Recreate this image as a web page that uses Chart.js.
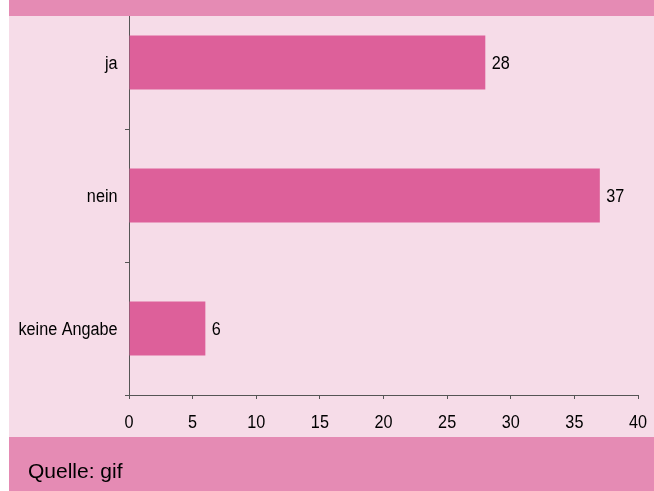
<!DOCTYPE html>
<html>
<head>
<meta charset="utf-8">
<script src="https://cdn.jsdelivr.net/npm/chart.js@4.4.1/dist/chart.umd.min.js"></script>
<style>
  html, body { margin: 0; padding: 0; background: #fff; }
  #wrap { width: 654px; height: 491px; position: relative; overflow: hidden; }
  #grafico { position: absolute; left: 0; top: -20px; }
</style>
</head>
<body>
<div id="wrap"><canvas id="grafico" width="654" height="511"></canvas></div>
<script>
// dados do gráfico
const categorias = ['ja', 'nein', 'keine Angabe'];
const valores = [28, 37, 6];
const ticksX = [0, 5, 10, 15, 20, 25, 30, 35, 40];
const fonte = 'Quelle: gif';

const corFaixa = '#e58bb4';
const corFundo = '#f6dce8';
const corBarra = '#dd609a';
const corEixo = '#555555';

// o canvas fica 20px acima da página (o topo do gráfico fica escondido)
const OY = 20;
const fonteRotulo = '18px "Liberation Sans", Arial, sans-serif';
const escalaX = 0.9; // texto um pouco estreito como no original

function textoEstreito(ctx, txt, x, y, align) {
    ctx.save();
    ctx.translate(x, y);
    ctx.scale(escalaX, 1);
    ctx.textAlign = align;
    ctx.fillText(txt, 0, 0);
    ctx.restore();
}

// fundo, faixas e rótulos
const desenhoPlugin = {
    id: 'desenho',
    beforeDraw(chart) {
        const ctx = chart.ctx;
        ctx.save();
        ctx.fillStyle = '#ffffff';
        ctx.fillRect(0, 0, chart.width, chart.height);
        ctx.fillStyle = corFundo;
        ctx.fillRect(9, 0, chart.width - 9, chart.height);
        ctx.restore();
    },
    afterDatasetsDraw(chart) {
        const ctx = chart.ctx;
        ctx.save();
        ctx.fillStyle = '#000';
        ctx.font = fonteRotulo;
        ctx.textBaseline = 'alphabetic';
        // valores nas barras
        chart.getDatasetMeta(0).data.forEach((barra, i) => {
            textoEstreito(ctx, String(valores[i]), barra.x + 6.5, barra.y + 6, 'left');
        });
        // rótulos do eixo y
        const y = chart.scales.y;
        categorias.forEach((c, i) => {
            textoEstreito(ctx, c, y.right - 11.5, y.getPixelForValue(i) + 6, 'right');
        });
        // rótulos do eixo x
        const x = chart.scales.x;
        ticksX.forEach(v => {
            textoEstreito(ctx, String(v), x.getPixelForValue(v), x.top + 33, 'center');
        });
        ctx.restore();
    },
    afterDraw(chart) {
        const ctx = chart.ctx;
        ctx.save();
        ctx.fillStyle = corFaixa;
        ctx.fillRect(9, 0, chart.width - 9, OY + 16);
        ctx.fillRect(9, OY + 437, chart.width - 9, chart.height - OY - 437);
        ctx.fillStyle = '#000';
        ctx.font = '21px "Liberation Sans", Arial, sans-serif';
        ctx.textBaseline = 'alphabetic';
        ctx.textAlign = 'left';
        ctx.fillText(fonte, 28, OY + 478);
        ctx.restore();
    }
};

new Chart(document.getElementById('grafico'), {
    type: 'bar',
    data: {
        labels: categorias,
        datasets: [{
            data: valores,
            backgroundColor: corBarra,
            borderWidth: 0,
            categoryPercentage: 1,
            barPercentage: 0.406
        }]
    },
    options: {
        indexAxis: 'y',
        responsive: false,
        animation: false,
        layout: { padding: { top: OY - 4, right: 16, left: 0, bottom: 0 } },
        plugins: {
            legend: { display: false },
            tooltip: { enabled: false }
        },
        scales: {
            x: {
                min: 0,
                max: 40,
                afterBuildTicks: (scale) => { scale.ticks = ticksX.map(v => ({ value: v })); },
                afterFit: (scale) => { scale.height = 96; },
                border: { display: true, color: corEixo, width: 1 },
                grid: { drawOnChartArea: false, drawTicks: true, tickLength: 4, color: corEixo },
                ticks: { display: false }
            },
            y: {
                afterFit: (scale) => { scale.width = 129; },
                border: { display: true, color: corEixo, width: 1 },
                grid: { offset: true, drawOnChartArea: false, drawTicks: true, tickLength: 4, color: corEixo },
                ticks: { display: false }
            }
        }
    },
    plugins: [desenhoPlugin]
});
</script>
</body>
</html>
